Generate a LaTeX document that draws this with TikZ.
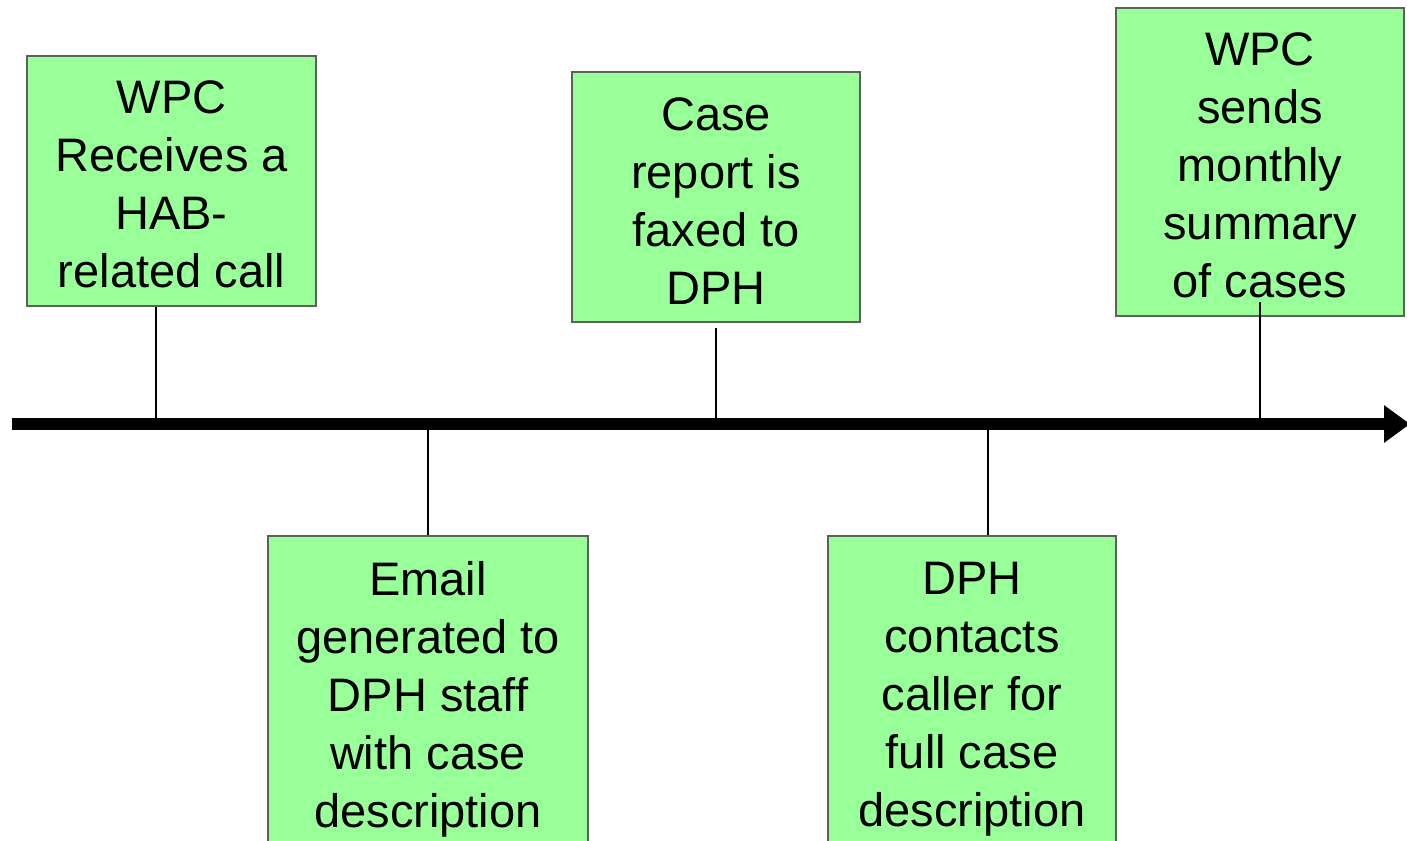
\documentclass[tikz,border=0pt]{standalone}
\usepackage{fontspec}
\setmainfont{Liberation Sans}
\usetikzlibrary{arrows.meta}
\definecolor{boxgreen}{HTML}{99FF99}
\definecolor{boxedge}{HTML}{5F5F5F}
\tikzset{
  event/.style={draw=boxedge, line width=1.5pt, fill=boxgreen, inner sep=0pt,
    align=center, font=\fontsize{47}{58}\selectfont, text=black},
  upper/.style={event, text height=#1},
  lower/.style={event, text depth=2pt},
  tick/.style={draw=black, line width=2.2pt},
  axis/.style={draw=black, line width=12pt,
    -{Triangle[length=26pt,width=36pt]}},
}
\begin{document}
\begin{tikzpicture}[x=1pt,y=-1pt]
\useasboundingbox (0,0) rectangle (1407,840);
\clip (0,0) rectangle (1407,840);

% events above the time axis
\node[upper=214pt, minimum width=289pt, minimum height=250pt] (e1) at (171.5,181)
  {WPC\\Receives a\\HAB-\\related call};
\node[upper=214pt, minimum width=288pt, minimum height=250pt] (e3) at (716,197)
  {Case\\report is\\faxed to\\DPH};
\node[upper=272pt, minimum width=288pt, minimum height=308pt] (e5) at (1260,162)
  {WPC\\sends\\monthly\\summary\\of cases};

% events below the time axis
\node[lower, minimum width=320pt, minimum height=318pt] (e2) at (428,695)
  {Email\\generated to\\DPH staff\\with case\\description};
\node[lower, minimum width=288pt, minimum height=318pt] (e4) at (972,695)
  {DPH\\contacts\\caller for\\full case\\description};

% points on the time axis
\coordinate (t1) at (156,424);
\coordinate (t2) at (428,424);
\coordinate (t3) at (716,424);
\coordinate (t4) at (988,424);
\coordinate (t5) at (1260,424);
\coordinate (c3) at (716,328);
\coordinate (c5) at (1260,302);

% ticks joining events to the axis
\draw[tick] (e1.south -| t1) -- (t1);
\draw[tick] (c3) -- (t3);
\draw[tick] (c5) -- (t5);
\draw[tick] (e2.north -| t2) -- (t2);
\draw[tick] (e4.north -| t4) -- (t4);

% time axis
\coordinate (axstart) at (12,424);
\coordinate (axend) at (1410,424);
\draw[axis] (axstart) -- (axend);
\end{tikzpicture}
\end{document}
